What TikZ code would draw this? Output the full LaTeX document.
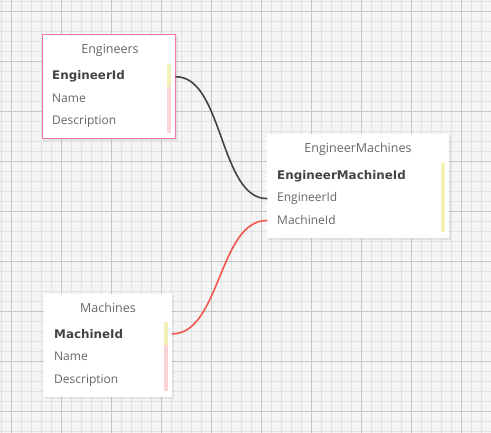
\documentclass[tikz,border=0pt]{standalone}
\usepackage{fontspec}
\setmainfont{Open Sans}
\newfontfamily\keyfont{DejaVu Sans}[BoldFont={DejaVu Sans Bold}]
\usetikzlibrary{calc}
\definecolor{gridbg}{HTML}{F5F5F5}
\definecolor{gridminor}{HTML}{E2E2E2}
\definecolor{gridmajor}{HTML}{C6C6C6}
\definecolor{pinkborder}{HTML}{FF74A8}
\definecolor{txtgrey}{HTML}{666666}
\definecolor{txtdark}{HTML}{444444}
\definecolor{baryellow}{HTML}{F3F0B8}
\definecolor{barpink}{HTML}{FBD3D6}
\definecolor{linkdark}{HTML}{444444}
\definecolor{linkred}{HTML}{F0584E}
\begin{document}
\begin{tikzpicture}[x=1pt,y=-1pt,
  entity/.style={fill=white,inner sep=0pt,draw=none},
  titletext/.style={font=\fontsize{12.5}{14}\selectfont,text=txtgrey,inner sep=0pt,anchor=base},
  rowtext/.style={font=\fontsize{12}{14}\selectfont,text=txtgrey,inner sep=0pt,anchor=base west},
  keytext/.style={font=\keyfont\fontsize{11.9}{14}\selectfont\bfseries,text=txtdark,inner sep=0pt,anchor=base west},
  link/.style={line width=1.6pt,line cap=round},
  shadowbox/.style={fill=black,opacity=0.07,draw=none}
]
\useasboundingbox (0,0) rectangle (491,433);
\fill[gridbg] (0,0) rectangle (491,433);
% minor grid
\foreach \k in {0,...,49} {
  \draw[gridminor,line width=0.8pt] ({1.7+10*\k},0) -- ({1.7+10*\k},433);
}
\foreach \k in {0,...,43} {
  \draw[gridminor,line width=0.8pt] (0,{1.7+10*\k}) -- (491,{1.7+10*\k});
}
% major grid
\foreach \k in {0,...,9} {
  \draw[gridmajor,line width=0.8pt] ({11.7+50*\k},0) -- ({11.7+50*\k},433);
}
\foreach \k in {0,...,8} {
  \draw[gridmajor,line width=0.8pt] (0,{11.7+50*\k}) -- (491,{11.7+50*\k});
}
% shadows
\fill[shadowbox] (43,36) rectangle (177.5,141.5);
\fill[shadowbox] (268,135) rectangle (451,240.5);
\fill[shadowbox] (45,295) rectangle (174,399);
% Engineers
\node[entity,draw=pinkborder,line width=1pt,minimum width=133.5pt,minimum height=104pt] (eng) at (108.75,87) {};
\node[titletext] (engt) at (110,54) {Engineers};
\node[keytext] (engid) at (52,80) {EngineerId};
\node[rowtext] (engname) at (52,102.3) {Name};
\node[rowtext] (engdesc) at (52,125) {Description};
\fill[baryellow] (167,64) rectangle (171,86.7);
\fill[barpink] (167,86.7) rectangle (171,132.7);
% EngineerMachines
\node[entity,minimum width=182pt,minimum height=104pt] (em) at (358,186) {};
\node[titletext] (emt) at (358,153) {EngineerMachines};
\node[keytext] (emid) at (277,179.3) {EngineerMachineId};
\node[rowtext] (emeng) at (277,201.7) {EngineerId};
\node[rowtext] (emmach) at (277,225) {MachineId};
\fill[baryellow] (441,163.3) rectangle (445,231.7);
% Machines
\node[entity,minimum width=128pt,minimum height=103pt] (mach) at (108,345.5) {};
\node[titletext] (macht) at (108,312.3) {Machines};
\node[keytext] (machid) at (54,338.3) {MachineId};
\node[rowtext] (machname) at (54,360.3) {Name};
\node[rowtext] (machdesc) at (54,383.3) {Description};
\fill[baryellow] (164,322.3) rectangle (168,345);
\fill[barpink] (164,345) rectangle (168,391);
% connectors
\draw[link,linkdark] (eng.east |- engid.center) .. controls ($(eng.east |- engid.center)+(47,0)$) and ($(em.west |- emeng.center)+(-47,0)$) .. (em.west |- emeng.center);
\draw[link,linkred] (mach.east |- machid.center) .. controls ($(mach.east |- machid.center)+(48,0)$) and ($(em.west |- emmach.center)+(-48,0)$) .. (em.west |- emmach.center);
\end{tikzpicture}
\end{document}
